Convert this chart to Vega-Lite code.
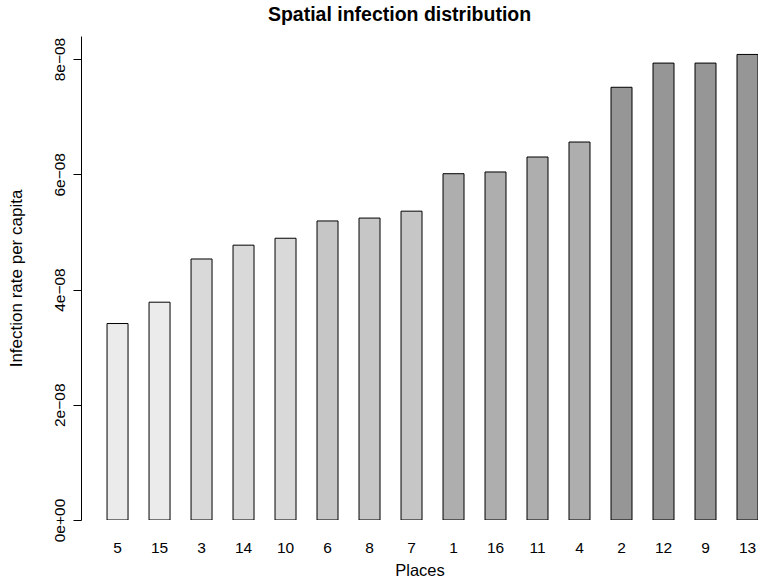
{
  "$schema": "https://vega.github.io/schema/vega-lite/v6.json",
  "autosize": {"type": "none"},
  "padding": {"left": 81, "top": 36, "right": 0, "bottom": 62},
  "width": 677,
  "height": 484,
  "background": "white",
  "config": {
    "view": {"stroke": null},
    "font": "Liberation Sans",
    "axis": {"labelFont": "Liberation Sans", "titleFont": "Liberation Sans", "labelColor": "#000", "titleColor": "#000", "titleFontWeight": "normal"}
  },
  "title": {"text": "Spatial infection distribution", "font": "Liberation Sans", "fontSize": 19.5, "fontWeight": "bold", "color": "#000", "anchor": "middle", "offset": 11, "dx": -20},
  "data": {
    "values": [
      {"place": "5", "rate": 3.41e-8, "group": "q1"},
      {"place": "15", "rate": 3.78e-8, "group": "q1"},
      {"place": "3", "rate": 4.53e-8, "group": "q2"},
      {"place": "14", "rate": 4.77e-8, "group": "q2"},
      {"place": "10", "rate": 4.89e-8, "group": "q2"},
      {"place": "6", "rate": 5.19e-8, "group": "q3"},
      {"place": "8", "rate": 5.24e-8, "group": "q3"},
      {"place": "7", "rate": 5.36e-8, "group": "q3"},
      {"place": "1", "rate": 6.01e-8, "group": "q4"},
      {"place": "16", "rate": 6.04e-8, "group": "q4"},
      {"place": "11", "rate": 6.30e-8, "group": "q4"},
      {"place": "4", "rate": 6.56e-8, "group": "q4"},
      {"place": "2", "rate": 7.51e-8, "group": "q5"},
      {"place": "12", "rate": 7.93e-8, "group": "q5"},
      {"place": "9", "rate": 7.93e-8, "group": "q5"},
      {"place": "13", "rate": 8.08e-8, "group": "q5"}
    ]
  },
  "mark": {"type": "bar", "stroke": "#000", "strokeWidth": 1, "clip": true},
  "encoding": {
    "x": {
      "field": "place", "type": "nominal", "sort": null,
      "scale": {"paddingInner": 0.5, "paddingOuter": 0.31, "align": 1},
      "axis": {"title": "Places", "labelAngle": 0, "domain": false, "ticks": false, "tickSize": 0, "labelFontSize": 15.5, "labelPadding": 20, "titleFontSize": 16.5, "titlePadding": 7}
    },
    "y": {
      "field": "rate", "type": "quantitative",
      "scale": {"domain": [0, 8.4e-8], "nice": false, "zero": true},
      "axis": {
        "title": "Infection rate per capita",
        "values": [0, 2e-8, 4e-8, 6e-8, 8e-8],
        "labelExpr": "datum.value == 0 ? '0e+00' : format(datum.value * 1e8, 'd') + 'e−08'",
        "labelAngle": -90, "labelAlign": "center", "labelBaseline": "alphabetic",
        "labelFontSize": 15.5, "labelPadding": 9, "tickSize": 8, "tickColor": "#000", "domainColor": "#000",
        "grid": false, "titleFontSize": 17, "titlePadding": 27
      }
    },
    "color": {
      "field": "group", "type": "nominal",
      "scale": {"domain": ["q1", "q2", "q3", "q4", "q5"], "range": ["#EBEBEB", "#D9D9D9", "#C6C6C6", "#AEAEAE", "#969696"]},
      "legend": null
    }
  }
}
